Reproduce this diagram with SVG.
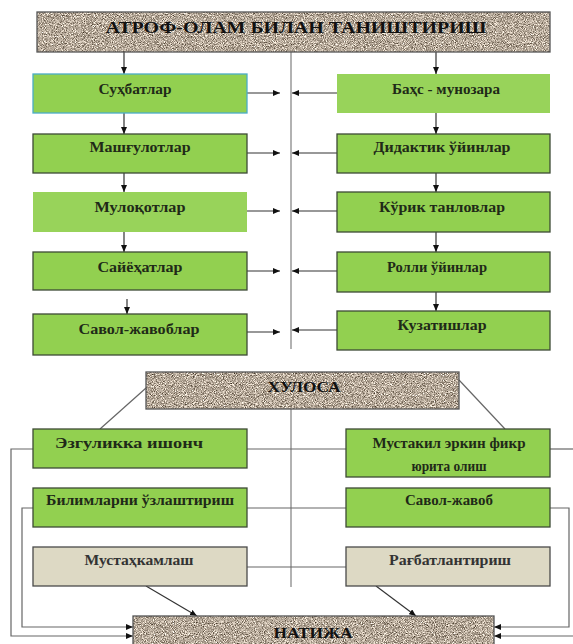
<svg xmlns="http://www.w3.org/2000/svg" width="573" height="644" viewBox="0 0 573 644">
<defs>
<filter id="grain" x="0" y="0" width="1" height="1" filterUnits="objectBoundingBox" color-interpolation-filters="sRGB">
<feTurbulence type="fractalNoise" baseFrequency="1.1" numOctaves="2" seed="7" result="t"/>
<feColorMatrix in="t" type="matrix" values="1.3 0 0 0 0.06  1.3 0 0 0 0.01  1.3 0 0 0 -0.05  0 0 0 0 1"/>
</filter>
<marker id="ah" markerUnits="userSpaceOnUse" markerWidth="7" markerHeight="6" refX="7" refY="3" orient="auto">
<path d="M0,0 L7,3 L0,6 z" fill="#111"/>
</marker>
</defs>
<style>
.g{fill:#92d050;stroke:#3d4a35;stroke-width:1.3}
.gn{fill:#98d35a;stroke:none}
.gb{fill:#92d050;stroke:#4bacc6;stroke-width:1.3}
.b{fill:#ddd9c4;stroke:#4a4a4a;stroke-width:1.3}
.st{fill:none;stroke:#555;stroke-width:1.3}
.t{font-family:"Liberation Serif","DejaVu Serif",serif;font-weight:bold;font-size:15px;fill:#1f2a18;text-anchor:middle}
.h{font-family:"Liberation Serif","DejaVu Serif",serif;font-weight:bold;font-size:17px;fill:#111;text-anchor:middle}
.a{fill:none;stroke:#333;stroke-width:1.2}
.c{fill:none;stroke:#999;stroke-width:1.5}
.k{fill:none;stroke:#666;stroke-width:1.2}
</style>

<g id="connectors">
<line class="c" x1="291" y1="52" x2="291" y2="349"/>
<line class="a" x1="124" y1="52" x2="124" y2="74" marker-end="url(#ah)"/>
<line class="a" x1="436" y1="52" x2="436" y2="74" marker-end="url(#ah)"/>
<line class="a" x1="124" y1="113" x2="124" y2="134" marker-end="url(#ah)"/>
<line class="a" x1="436" y1="113" x2="436" y2="134" marker-end="url(#ah)"/>
<line class="a" x1="124" y1="173" x2="124" y2="192" marker-end="url(#ah)"/>
<line class="a" x1="436" y1="173" x2="436" y2="192" marker-end="url(#ah)"/>
<line class="a" x1="124" y1="232" x2="124" y2="252" marker-end="url(#ah)"/>
<line class="a" x1="436" y1="232" x2="436" y2="252" marker-end="url(#ah)"/>
<line class="a" x1="127" y1="299" x2="127" y2="314" marker-end="url(#ah)"/>
<line class="a" x1="436" y1="292" x2="436" y2="311" marker-end="url(#ah)"/>
<line class="a" x1="247" y1="93" x2="280" y2="93" marker-end="url(#ah)"/>
<line class="a" x1="337" y1="93" x2="292" y2="93" marker-end="url(#ah)"/>
<line class="a" x1="247" y1="153" x2="280" y2="153" marker-end="url(#ah)"/>
<line class="a" x1="337" y1="153" x2="292" y2="153" marker-end="url(#ah)"/>
<line class="a" x1="247" y1="211" x2="280" y2="211" marker-end="url(#ah)"/>
<line class="a" x1="337" y1="211" x2="292" y2="211" marker-end="url(#ah)"/>
<line class="a" x1="247" y1="271" x2="280" y2="271" marker-end="url(#ah)"/>
<line class="a" x1="337" y1="271" x2="292" y2="271" marker-end="url(#ah)"/>
<line class="a" x1="247" y1="332" x2="280" y2="332" marker-end="url(#ah)"/>
<line class="a" x1="337" y1="330" x2="292" y2="330" marker-end="url(#ah)"/>

<line class="c" x1="291" y1="409" x2="291" y2="587"/>
<line class="k" x1="146" y1="388" x2="100" y2="429"/>
<line class="k" x1="459" y1="380" x2="505" y2="429"/>
<line class="k" x1="247" y1="449" x2="346" y2="449"/>
<line class="k" x1="247" y1="508" x2="346" y2="508"/>
<line class="k" x1="247" y1="567" x2="346" y2="567"/>
<polyline class="k" points="33,449 11,449 11,636 133,636" marker-end="url(#ah)"/>
<polyline class="k" points="33,508 22,508 22,627 133,627" marker-end="url(#ah)"/>
<line class="k" x1="550" y1="449" x2="573" y2="449"/>
<polyline class="k" points="550,508 569,508 569,627 494,627" marker-end="url(#ah)"/>
<line class="k" x1="573" y1="636" x2="494" y2="636" marker-end="url(#ah)"/>
<line class="a" x1="146" y1="586" x2="197" y2="616" marker-end="url(#ah)"/>
<line class="a" x1="376" y1="586" x2="416" y2="616" marker-end="url(#ah)"/>
</g>

<g id="title">
<rect x="37" y="12" width="513" height="40" fill="#b5a898" filter="url(#grain)"/>
<rect x="37" y="12" width="513" height="40" class="st"/>
<text class="h" x="296" y="32.5" textLength="381" lengthAdjust="spacingAndGlyphs">АТРОФ-ОЛАМ БИЛАН ТАНИШТИРИШ</text>
</g>

<g id="n1"><rect class="gb" x="33" y="74" width="214" height="39"/><text class="t" x="135" y="94" textLength="73" lengthAdjust="spacingAndGlyphs">Суҳбатлар</text></g>
<g id="n2"><rect class="gn" x="337" y="74" width="213" height="39"/><text class="t" x="446" y="94" textLength="108" lengthAdjust="spacingAndGlyphs">Баҳс - мунозара</text></g>
<g id="n3"><rect class="g" x="33" y="134" width="214" height="39"/><text class="t" x="140" y="152" textLength="101" lengthAdjust="spacingAndGlyphs">Машғулотлар</text></g>
<g id="n4"><rect class="g" x="337" y="134" width="213" height="39"/><text class="t" x="442" y="152" textLength="137" lengthAdjust="spacingAndGlyphs">Дидактик ўйинлар</text></g>
<g id="n5"><rect class="gn" x="33" y="192" width="214" height="40"/><text class="t" x="140" y="212" textLength="91" lengthAdjust="spacingAndGlyphs">Мулоқотлар</text></g>
<g id="n6"><rect class="g" x="337" y="192" width="213" height="40"/><text class="t" x="442" y="212" textLength="126" lengthAdjust="spacingAndGlyphs">Кўрик танловлар</text></g>
<g id="n7"><rect class="g" x="33" y="252" width="214" height="38"/><text class="t" x="140" y="272" textLength="85" lengthAdjust="spacingAndGlyphs">Сайёҳатлар</text></g>
<g id="n8"><rect class="g" x="337" y="252" width="213" height="40"/><text class="t" x="437" y="272" textLength="100" lengthAdjust="spacingAndGlyphs">Ролли ўйинлар</text></g>
<g id="n9"><rect class="g" x="33" y="314" width="214" height="41"/><text class="t" x="139" y="334" textLength="121" lengthAdjust="spacingAndGlyphs">Савол-жавоблар</text></g>
<g id="n10"><rect class="g" x="337" y="311" width="213" height="39"/><text class="t" x="442" y="330" textLength="89" lengthAdjust="spacingAndGlyphs">Кузатишлар</text></g>

<g id="xulosa">
<rect x="146" y="372" width="313" height="37" fill="#b5a898" filter="url(#grain)"/>
<rect x="146" y="372" width="313" height="37" class="st"/>
<text class="t" x="304" y="392" textLength="73" lengthAdjust="spacingAndGlyphs" style="fill:#111;font-size:14px">ХУЛОСА</text>
</g>
<g id="n11"><rect class="g" x="33" y="429" width="214" height="39"/><text class="t" x="129" y="448" textLength="148" lengthAdjust="spacingAndGlyphs">Эзгуликка ишонч</text></g>
<g id="n12"><rect class="g" x="346" y="429" width="204" height="48"/><text class="t" x="449" y="448" textLength="153" lengthAdjust="spacingAndGlyphs">Мустакил эркин фикр</text><text class="t" x="449" y="471" textLength="75" lengthAdjust="spacingAndGlyphs">юрита олиш</text></g>
<g id="n13"><rect class="g" x="33" y="488" width="214" height="39"/><text class="t" x="140" y="505" textLength="188" lengthAdjust="spacingAndGlyphs">Билимларни ўзлаштириш</text></g>
<g id="n14"><rect class="g" x="346" y="488" width="204" height="39"/><text class="t" x="449" y="505" textLength="88" lengthAdjust="spacingAndGlyphs">Савол-жавоб</text></g>
<g id="n15"><rect class="b" x="33" y="547" width="214" height="39"/><text class="t" x="139" y="565" textLength="109" lengthAdjust="spacingAndGlyphs" style="fill:#333">Мустаҳкамлаш</text></g>
<g id="n16"><rect class="b" x="346" y="547" width="204" height="39"/><text class="t" x="450" y="565" textLength="122" lengthAdjust="spacingAndGlyphs" style="fill:#333">Рағбатлантириш</text></g>
<g id="natija">
<rect x="133" y="616" width="361" height="40" fill="#b5a898" filter="url(#grain)"/>
<rect x="133" y="616" width="361" height="40" class="st"/>
<text class="t" x="313" y="638" textLength="79" lengthAdjust="spacingAndGlyphs" style="fill:#111;font-size:14px">НАТИЖА</text>
</g>
</svg>
